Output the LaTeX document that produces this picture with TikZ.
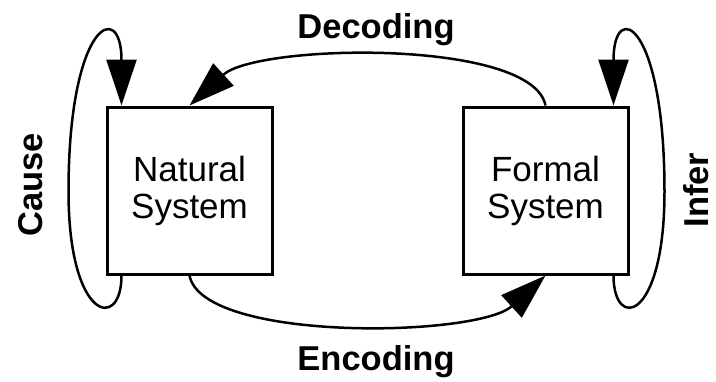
\documentclass[tikz,border=0pt]{standalone}
\usepackage{fontspec}
\setmainfont{Liberation Sans}
\usetikzlibrary{arrows.meta,positioning}
\tikzstyle{system}=[
	rectangle,
	line width=3pt,
	draw=black,
	minimum width=165pt,
	minimum height=167pt,
	inner sep=0pt,
	align=center,
	font=\fontsize{35}{37}\selectfont
]
\tikzstyle{mapping}=[
	-{Triangle[length=46pt,width=30pt]},
	line width=2.5pt
]
\tikzstyle{tag}=[
	font=\fontsize{34.5}{36}\selectfont\bfseries,
	inner sep=0pt,
	anchor=base
]

\begin{document}
\begin{tikzpicture}[x=1pt,y=-1pt]
\useasboundingbox (0,0) rectangle (716,381);
\node [system] (natural) at (189.5,190.5) {Natural\\System};
\node [system] (formal)[right=188pt of natural] {Formal\\System};
% decoding and encoding
\draw [mapping] (formal.north) .. controls +(-13,-67) and +(68,-62) .. (natural.north);
\draw [mapping] (natural.south) .. controls +(13,67) and +(-68,62) .. (formal.south);
% the two loops
\draw [mapping] ([xshift=16pt]natural.south west) .. controls +(0,56) and +(0,130) .. ++(-53,-84)
	.. controls +(0,-170) and +(0,-107) .. ([xshift=16pt]natural.north west);
\draw [mapping] ([xshift=-16pt]formal.south east) .. controls +(0,56) and +(0,130) .. ++(51,-84)
	.. controls +(0,-170) and +(0,-107) .. ([xshift=-16pt]formal.north east);
\node [tag] (decoding) at (376,38) {Decoding};
\node [tag] (encoding) at (376,370) {Encoding};
\node [tag, rotate=90] (cause) at (42,185) {Cause};
\node [tag, rotate=90] (infer) at (708,190) {Infer};
\end{tikzpicture}
\end{document}
